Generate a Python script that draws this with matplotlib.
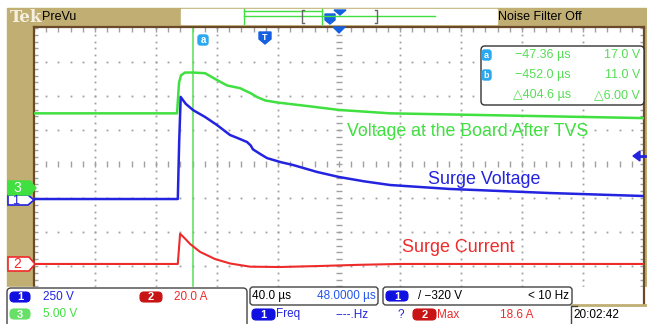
import numpy as np
import matplotlib.pyplot as plt
from matplotlib.patches import Rectangle, FancyBboxPatch, Polygon

plt.rcParams['font.family'] = ['Liberation Sans', 'DejaVu Sans']

# scope settings
time_per_div = 40.0     # us/div
h_center = 48.5         # us at screen center
ch1_scale = 250.0       # V/div
ch2_scale = 20.0        # A/div
ch3_scale = 5.0         # V/div
ch1_offset = -1.03      # ground marker position (div)
ch2_offset = -2.94
ch3_offset = -0.71
cursor_a = -47.36       # us

# ch1 - Surge Voltage (V)
t_ch1 = [-151.5, -57.2, -56.3, -55.3, -52.0, -47.2, -39.3, -31.5, -23.0, -16.4, -11.8,
         -9.5, -7.9, -3.0, 1.3, 10.0, 18.4, 34.1, 48.5, 65.0, 82.0, 121.0, 187.0, 248.5]
v_ch1 = [0, 0, 420, 750, 700, 654, 603, 544, 471, 441, 419,
         395, 365, 330, 301, 272, 250, 199, 162, 130, 103, 74, 44, 22]

# ch3 - Voltage at the board after TVS (V)
t_ch3 = [-151.5, -57.7, -56.4, -55.1, -52.5, -47.2, -39.3, -31.5, -24.9, -16.4,
         -9.8, -5.2, 0.0, 7.9, 23.0, 34.1, 48.5, 82.0, 154.1, 248.5]
v_ch3 = [11.0, 11.0, 15.5, 16.6, 17.0, 17.0, 16.9, 15.9, 15.1, 14.7,
         14.0, 13.4, 12.9, 12.6, 12.2, 11.9, 11.5, 11.0, 10.7, 10.3]

# ch2 - Surge Current (A)
t_ch2 = [-151.5, -57.2, -55.7, -52.0, -49.2, -42.6, -32.8, -23.0, -9.8, 9.8, 36.0, 62.0, 88.5, 248.5]
i_ch2 = [0, 0, 17.8, 14.5, 11.8, 7.1, 2.9, 0.3, -1.6, -1.8, -1.2, -0.5, 0, 0]

W, H = 647, 324
tan = '#C0AE73'
brown = '#6B4A2A'
green = '#3FE03F'
blue = '#2323E0'
red = '#EE2B2B'
cyan = '#2AA8F0'

fig = plt.figure(figsize=(W / 100, H / 100), dpi=100)
fig.patch.set_facecolor('white')

# background layer in pixel coords
bg = fig.add_axes([0, 0, 1, 1], zorder=-1)
bg.set_xlim(0, W)
bg.set_ylim(H, 0)
bg.axis('off')
bg.add_patch(Rectangle((7, 8), W - 7, 282, color=tan))
bg.add_patch(Rectangle((181, 9), 316, 15, color='white'))

# main graticule
ax = fig.add_axes([34 / W, 1 - 287 / H, 610 / W, 260 / H], zorder=0)
ax.set_facecolor('white')
x0 = h_center - 5 * time_per_div
x1 = h_center + 5 * time_per_div
ytop = 137 / 34
ybot = -123 / 34
ax.set_xlim(x0, x1)
ax.set_ylim(ybot, ytop)
ax.set_xticks([])
ax.set_yticks([])
for s in ['left', 'top', 'right']:
    ax.spines[s].set_color(brown)
    ax.spines[s].set_linewidth(1.6)
ax.spines['bottom'].set_visible(False)

grid_c = '#A0A0A0'
fine_x = np.arange(x0, x1 + 1e-6, time_per_div / 5)
fine_y = np.arange(-4, 4.01, 0.2)
fine_y = fine_y[(fine_y > ybot) & (fine_y < ytop)]
for k in range(1, 10):
    if k == 5:
        continue
    xs = x0 + k * time_per_div
    ax.plot(np.full_like(fine_y, xs), fine_y, ls='none', marker='s', ms=1.3, color=grid_c, mew=0)
for j in range(-3, 4):
    if j == 0:
        continue
    ax.plot(fine_x, np.full_like(fine_x, j), ls='none', marker='s', ms=1.3, color=grid_c, mew=0)
# center cross with minor ticks
ax.plot(np.full_like(fine_y, h_center), fine_y, ls='none', marker='_', ms=5, mew=1, color=grid_c)
ax.plot(fine_x, np.zeros_like(fine_x), ls='none', marker='|', ms=5, mew=1, color=grid_c)
# border ticks
ax.plot(fine_x, np.full_like(fine_x, ytop - 0.05), ls='none', marker='|', ms=4, mew=1, color=grid_c)
ax.plot(np.full_like(fine_y, x0 + 0.8), fine_y, ls='none', marker='_', ms=4, mew=1, color=grid_c)
ax.plot(np.full_like(fine_y, x1 - 0.8), fine_y, ls='none', marker='_', ms=4, mew=1, color=grid_c)

# cursor a
ax.axvline(cursor_a, color='#55E055', lw=1.1, zorder=2)

# traces
ax.plot(t_ch3, np.array(v_ch3) / ch3_scale + ch3_offset, color=green, lw=1.8, zorder=3)
ax.plot(t_ch1, np.array(v_ch1) / ch1_scale + ch1_offset, color=blue, lw=1.8, zorder=4)
ax.plot(t_ch2, np.array(i_ch2) / ch2_scale + ch2_offset, color=red, lw=1.5, zorder=3)

# overlay layer in pixel coords
ov = fig.add_axes([0, 0, 1, 1], zorder=5)
ov.set_xlim(0, W)
ov.set_ylim(H, 0)
ov.axis('off')
ov.patch.set_alpha(0)


def txt(x, y, s, color='black', size=8.5, ha='left', **kw):
    ov.text(x, y, s, color=color, fontsize=size, ha=ha, va='center', **kw)


def pill(x, y, w, h, color, label, tcolor='white'):
    ov.add_patch(FancyBboxPatch((x, y), w, h, boxstyle='round,pad=0,rounding_size=4',
                                fc=color, ec=color, lw=0.8))
    txt(x + w / 2, y + h / 2 + 0.5, label, color=tcolor, size=8, ha='center', weight='bold')


# top status bar
txt(10, 17, 'Tek', color='#F6F0E0', size=12, family='DejaVu Serif', weight='bold')
txt(42, 17, 'PreVu', size=9)
txt(498, 17, 'Noise Filter Off', size=9)
ov.plot([244, 244], [9, 24], color=green, lw=1)
ov.plot([322, 322], [9, 24], color=green, lw=1)
ov.plot([244, 322], [11, 11], color=green, lw=1)
ov.plot([244, 435], [16, 16], color=green, lw=1)
ov.plot([304, 302, 302, 304], [10, 10, 23, 23], color='#666666', lw=1)
ov.plot([375, 377, 377, 375], [10, 10, 23, 23], color='#666666', lw=1)
ov.add_patch(Polygon([(334, 10), (346, 10), (340, 15)], color='#1560E0'))
ov.add_patch(Polygon([(325, 14), (335, 14), (335, 20), (330, 24), (325, 20)], color='#1560E0'))

# markers on top of graticule
ov.add_patch(Polygon([(333, 27), (345, 27), (339, 33)], color='#1560E0'))
ov.add_patch(Polygon([(259, 32), (271, 32), (271, 39), (265, 44), (259, 39)], color='#1560E0'))
txt(265, 37, 'T', color='white', size=6.5, ha='center', weight='bold')
ov.add_patch(FancyBboxPatch((198, 35), 10, 10, boxstyle='round,pad=0,rounding_size=2.5', fc=cyan, ec=cyan))
txt(203, 40, 'a', color='white', size=7, ha='center', weight='bold')

# cursor readout
ov.add_patch(FancyBboxPatch((481, 46), 163, 59, boxstyle='round,pad=0,rounding_size=4',
                            fc='white', ec='#333333', lw=1))
for yy, lab in [(55, 'a'), (75, 'b')]:
    ov.add_patch(FancyBboxPatch((482, yy - 5), 9, 10, boxstyle='round,pad=0,rounding_size=2.5',
                                fc=cyan, ec=cyan))
    txt(486.5, yy, lab, color='white', size=6.5, ha='center', weight='bold')
rd_c = '#55DD55'
txt(571, 55, '\u221247.36 \u00b5s', color=rd_c, size=9, ha='right')
txt(640, 55, '17.0 V', color=rd_c, size=9, ha='right')
txt(571, 75, '\u2212452.0 \u00b5s', color=rd_c, size=9, ha='right')
txt(640, 75, '11.0 V', color=rd_c, size=9, ha='right')
txt(571, 95, '\u25b3404.6 \u00b5s', color=rd_c, size=9, ha='right')
txt(640, 95, '\u25b36.00 V', color=rd_c, size=9, ha='right')

# trigger level arrow (right edge)
ov.add_patch(Polygon([(633, 156), (640, 151), (640, 161)], color=blue))
ov.plot([638, 645], [156, 156], color=blue, lw=2)

# channel ground markers
ov.add_patch(Polygon([(8, 195), (28, 195), (34, 200), (28, 205), (8, 205)], fc='white', ec=blue, lw=1.2))
txt(16, 200.5, '1', color=blue, size=9, ha='center')
ov.add_patch(Polygon([(8, 181), (30, 181), (36, 188), (30, 195), (8, 195)], fc=green, ec=green, lw=1))
txt(17, 188, '3', color='white', size=10, ha='center')
ov.add_patch(Polygon([(8, 257), (29, 257), (35, 264), (29, 271), (8, 271)], fc='white', ec=red, lw=1.2))
txt(17, 264.5, '2', color=red, size=10, ha='center')

# trace labels
txt(347, 131, 'Voltage at the Board After TVS', color=green, size=12.8)
txt(428, 180, 'Surge Voltage', color=blue, size=12.9)
txt(402, 248, 'Surge Current', color=red, size=12.9)

# bottom readout
ov.add_patch(Rectangle((7, 287), W - 7, H - 287, color='white', zorder=0))
ov.add_patch(Rectangle((572, 287), 72, 18, fc='white', ec='none'))
ov.plot([644, 644], [287, 305], color=brown, lw=1.6)
ov.plot([572, 647], [305, 305], color=tan, lw=2)
ov.add_patch(FancyBboxPatch((7, 288), 240, 40, boxstyle='round,pad=0,rounding_size=4',
                            fc='white', ec='#444444', lw=1))
pill(10, 292, 20, 10, '#1010E0', '1')
txt(43, 297, '250 V', color=blue)
pill(140, 292, 22, 10, '#C81414', '2')
txt(174, 297, '20.0 A', color=red)
pill(10, 309, 20, 10, '#66E066', '3')
txt(43, 314, '5.00 V', color=green)

ov.add_patch(FancyBboxPatch((250, 287), 128, 18, boxstyle='round,pad=0,rounding_size=3',
                            fc='white', ec='#444444', lw=1))
txt(252, 296, '40.0 \u00b5s')
txt(376, 296, '48.0000 \u00b5s', color='#2255EE', ha='right')
ov.add_patch(FancyBboxPatch((383, 287), 189, 18, boxstyle='round,pad=0,rounding_size=3',
                            fc='white', ec='#444444', lw=1))
pill(386, 291, 22, 10, '#1010E0', '1')
txt(418, 296, '/ \u2212320 V')
txt(569, 296, '< 10 Hz', ha='right')

pill(252, 309, 23, 11, '#1010E0', '1')
txt(276, 314.5, 'Freq', color=blue)
txt(335, 314.5, '----.Hz', color=blue)
txt(398, 314.5, '?', color=blue)
pill(413, 309, 23, 11, '#C81414', '2')
txt(437, 314.5, 'Max', color=red)
txt(500, 314.5, '18.6 A', color=red)
ov.plot([571, 571, 577], [324, 306, 306], color='#444444', lw=1)
txt(573, 315, '20:02:42')

fig.savefig('out.png', dpi=100)
